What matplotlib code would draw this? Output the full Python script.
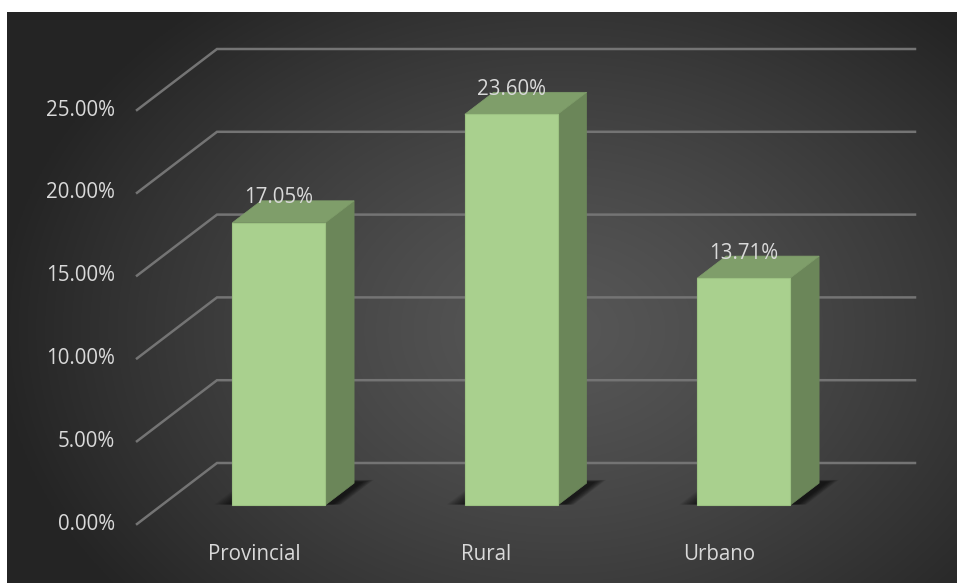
import numpy as np
import matplotlib
matplotlib.use("Agg")
import matplotlib.pyplot as plt
from matplotlib.patches import Polygon

# ---- data ----
categories = ["Provincial", "Rural", "Urbano"]
values = [17.05, 23.60, 13.71]          # percent
tick_values = [0, 5, 10, 15, 20, 25]
tick_labels = ["0.00%", "5.00%", "10.00%", "15.00%", "20.00%", "25.00%"]

# ---- figure in pixel coordinates ----
W, H = 957, 583
fig = plt.figure(figsize=(W / 100, H / 100), dpi=100)
fig.patch.set_facecolor("white")
ax = fig.add_axes([0, 0, 1, 1])
ax.set_xlim(0, W)
ax.set_ylim(H, 0)
ax.axis("off")

FONT = "Open Sans"
TXT = "#d9d9d9"
FS = 14.8

# background radial gradient
x0b, y0b = 7, 12
gx, gy = np.meshgrid(np.linspace(x0b, W, 400), np.linspace(y0b, H, 250))
r = np.sqrt(((gx - 560) / 560) ** 2 + ((gy - 330) / 420) ** 2)
t = np.clip(r, 0, 1) ** 1.3
c_in, c_out = 0.34, 0.145
g = c_in + (c_out - c_in) * t
img = np.dstack([g, g, g])
ax.imshow(img, extent=[x0b, W, H, y0b], aspect="auto", zorder=0, interpolation="bilinear")

# ---- 3D oblique projection (value axis scale + depth) ----
S = 16.56             # px per percent
Y0 = 524              # front-plane y of 0%
XW = 137              # front x of side wall
DEPTH = np.array([80.0, -61.0])   # full depth offset
X_CAT0, X_STEP = 254.0, 232.5     # category centres at front plane
HALF = 46.5
D_FRONT, D_BACK = 0.31, 0.67
GRID_END = 915

def proj(x, v, d):
    return (x + DEPTH[0] * d, Y0 - S * v + DEPTH[1] * d)

# gridlines: side wall diagonal + back wall horizontal
for v in tick_values:
    xf, yf = proj(XW, v, 0)
    xb, yb = proj(XW, v, 1)
    ax.plot([xf, xb, GRID_END], [yf, yb, yb], color="#747474", lw=1.8,
            solid_joinstyle="miter", zorder=1)

# tick labels
for v, lab in zip(tick_values, tick_labels):
    xf, yf = proj(XW, v, 0)
    ax.text(115, yf, lab, ha="right", va="center", color=TXT, fontsize=FS,
            family=FONT, zorder=5)

# bars
for i, (cat, v) in enumerate(zip(categories, values)):
    cx = X_CAT0 + X_STEP * i
    xl, xr = cx - HALF, cx + HALF
    # soft shadow on floor
    for k in range(12):
        e = 1 + 1.6 * k
        dd = 0.003 * k
        pts = [proj(xl - e, 0, D_FRONT + 0.01), proj(xr + e * 0.5 + 6, 0, D_FRONT + 0.01),
               proj(xr + e * 0.5 + 6, 0, D_BACK + 0.02 + dd),
               proj(xl - e, 0, D_BACK + 0.02 + dd)]
        ax.add_patch(Polygon(pts, closed=True, facecolor="black",
                             alpha=0.07, edgecolor="none", zorder=2))
    front = [proj(xl, 0, D_FRONT), proj(xr, 0, D_FRONT),
             proj(xr, v, D_FRONT), proj(xl, v, D_FRONT)]
    side = [proj(xr, 0, D_FRONT), proj(xr, 0, D_BACK),
            proj(xr, v, D_BACK), proj(xr, v, D_FRONT)]
    top = [proj(xl, v, D_FRONT), proj(xr, v, D_FRONT),
           proj(xr, v, D_BACK), proj(xl, v, D_BACK)]
    ax.add_patch(Polygon(side, closed=True, facecolor="#6b8659",
                         edgecolor="#6b8659", lw=0.5, zorder=3))
    ax.add_patch(Polygon(top, closed=True, facecolor="#7f9e6a",
                         edgecolor="#7f9e6a", lw=0.5, zorder=3))
    ax.add_patch(Polygon(front, closed=True, facecolor="#a9d08e",
                         edgecolor="#9cc282", lw=0.8, zorder=4))
    # data label
    lx, ly = proj(cx, v, D_FRONT)
    ax.text(lx, ly - 25, f"{v:.2f}%", ha="center", va="center", color=TXT,
            fontsize=FS, family=FONT, zorder=6)
    # category label
    ax.text(cx, 555, cat, ha="center", va="center", color=TXT,
            fontsize=FS, family=FONT, zorder=5)

fig.savefig("out.png", dpi=100, facecolor=fig.get_facecolor())
